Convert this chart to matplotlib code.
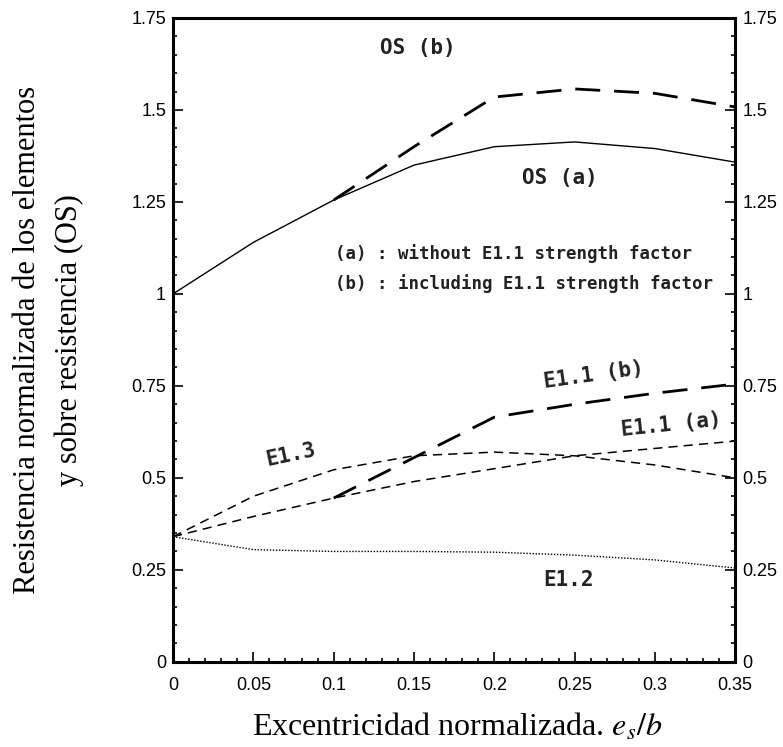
import matplotlib
matplotlib.use("Agg")
import matplotlib.pyplot as plt
from matplotlib.ticker import MultipleLocator

# values
ecc = [0.0, 0.05, 0.1, 0.15, 0.2, 0.25, 0.3, 0.35]
os_a = [1.0, 1.14, 1.255, 1.35, 1.40, 1.413, 1.395, 1.358]
e11_a = [0.34, 0.395, 0.445, 0.49, 0.525, 0.56, 0.58, 0.60]
e13 = [0.34, 0.45, 0.522, 0.56, 0.57, 0.56, 0.535, 0.50]
e12 = [0.34, 0.305, 0.30, 0.30, 0.298, 0.29, 0.277, 0.255]

# the (b) curves branch off at e/b = 0.1
ecc_b = [0.1, 0.15, 0.2, 0.25, 0.3, 0.35]
os_b = [1.255, 1.40, 1.535, 1.557, 1.545, 1.508]
e11_b = [0.445, 0.555, 0.665, 0.70, 0.73, 0.755]

y_ticks = [0, 0.25, 0.5, 0.75, 1, 1.25, 1.5, 1.75]
y_tick_labels = ["0", "0.25", "0.5", "0.75", "1", "1.25", "1.5", "1.75"]
x_ticks = [0, 0.05, 0.1, 0.15, 0.2, 0.25, 0.3, 0.35]
x_tick_labels = ["0", "0.05", "0.1", "0.15", "0.2", "0.25", "0.3", "0.35"]

plt.rcParams['mathtext.fontset'] = 'stix'

fig = plt.figure(figsize=(7.83, 7.47), dpi=100)
ax = fig.add_axes([0.221, 0.114, 0.718, 0.862])

ax.plot(ecc, os_a, color='black', lw=1.0)
ax.plot(ecc_b, os_b, color='black', lw=2.0, dashes=(9, 5))
ax.plot(ecc_b, e11_b, color='black', lw=2.0, dashes=(9, 5))
ax.plot(ecc, e11_a, color='black', lw=1.1, dashes=(6, 4))
ax.plot(ecc, e13, color='black', lw=1.1, dashes=(6, 4))
ax.plot(ecc, e12, color='black', lw=1.0, dashes=(1, 1.2))

ax.set_xlim(0, 0.35)
ax.set_ylim(0, 1.75)
ax.set_xticks(x_ticks)
ax.set_xticklabels(x_tick_labels)
ax.set_yticks(y_ticks)
ax.set_yticklabels(y_tick_labels)
ax.xaxis.set_minor_locator(MultipleLocator(0.01))
ax.yaxis.set_minor_locator(MultipleLocator(0.05))
ax.tick_params(which='both', direction='in', right=True, top=False,
               labelright=True, width=1.2)
ax.tick_params(which='major', length=7, labelsize=13, pad=5)
ax.tick_params(axis='x', which='major', pad=11)
ax.tick_params(which='minor', length=3)
for lab in ax.get_xticklabels() + ax.get_yticklabels():
    lab.set_family('Liberation Sans')
for side in ['left', 'right', 'top', 'bottom']:
    ax.spines[side].set_linewidth(2.2)

mono = dict(family='DejaVu Sans Mono', fontweight='bold', color='#222222')
ax.text(0.1525, 1.668, "OS (b)", ha='center', va='center', fontsize=15, **mono)
ax.text(0.241, 1.315, "OS (a)", ha='center', va='center', fontsize=15, **mono)
ax.text(0.101, 1.111, "(a) : without E1.1 strength factor", ha='left', va='center',
        fontsize=12.5, **mono)
ax.text(0.101, 1.027, "(b) : including E1.1 strength factor", ha='left', va='center',
        fontsize=12.5, **mono)
ax.text(0.262, 0.78, "E1.1 (b)", ha='center', va='center', fontsize=15, rotation=8, **mono)
ax.text(0.31, 0.645, "E1.1 (a)", ha='center', va='center', fontsize=15, rotation=6, **mono)
ax.text(0.073, 0.562, "E1.3", ha='center', va='center', fontsize=15, rotation=12, **mono)
ax.text(0.246, 0.222, "E1.2", ha='center', va='center', fontsize=15, **mono)

fig.text(0.062, 0.545, "Resistencia normalizada de los elementos\ny sobre resistencia (OS)",
         rotation=90, ha='center', va='center', fontsize=22,
         family='Liberation Serif', linespacing=1.55)
fig.text(0.584, 0.027, r"Excentricidad normalizada. $e_s/b$", ha='center', va='center',
         fontsize=23, family='Liberation Serif')

fig.savefig("out.png", dpi=100)
